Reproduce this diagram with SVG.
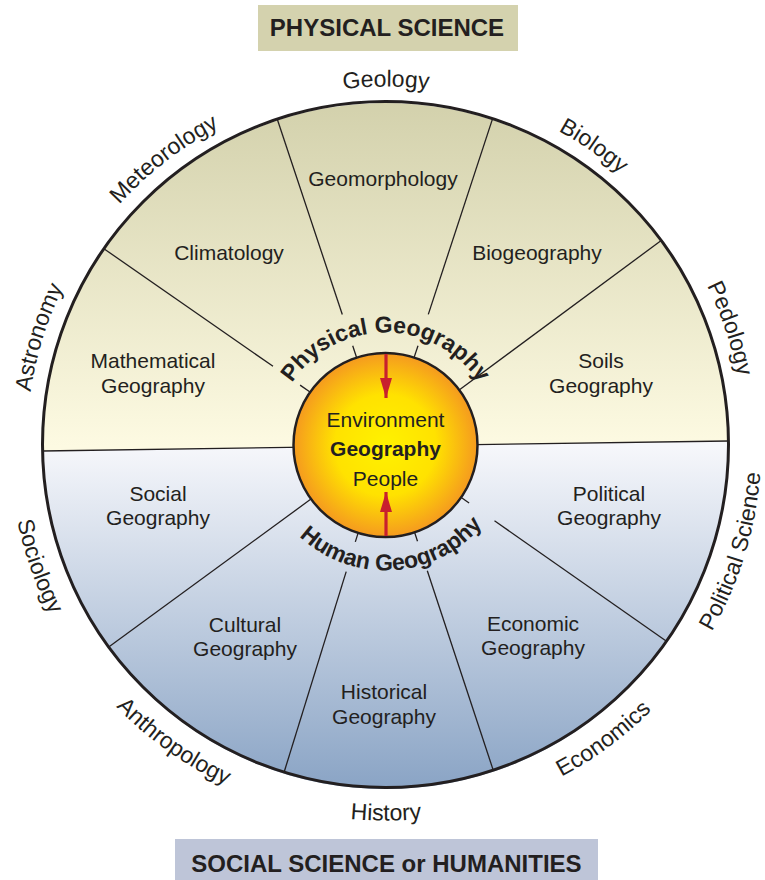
<svg xmlns="http://www.w3.org/2000/svg" width="765" height="880" viewBox="0 0 765 880">
<defs>
<style>
text{font-family:"Liberation Sans",Arial,Helvetica,sans-serif;fill:#231f20}
.sec{font-size:21px;text-anchor:middle}
.out{font-size:23px;text-anchor:middle}
.arc{font-size:23px;font-weight:bold;text-anchor:middle}
.ttl{font-size:24px;font-weight:bold;text-anchor:middle}
.spoke{stroke:#231f20;stroke-width:1.3;fill:none}
.arrow{stroke:#c8202e;stroke-width:3.2;fill:none;marker-end:url(#ah)}
</style>
<linearGradient id="gUp" x1="0" y1="102" x2="0" y2="446" gradientUnits="userSpaceOnUse">
<stop offset="0" stop-color="#d3d1ac"/>
<stop offset="1" stop-color="#fdfae2"/>
</linearGradient>
<linearGradient id="gLo" x1="0" y1="446" x2="0" y2="788" gradientUnits="userSpaceOnUse">
<stop offset="0" stop-color="#f6f7fb"/>
<stop offset="1" stop-color="#8aa4c5"/>
</linearGradient>
<radialGradient id="gSun" cx="0.5" cy="0.5" r="0.5">
<stop offset="0" stop-color="#fff200"/>
<stop offset="0.55" stop-color="#ffe200"/>
<stop offset="1" stop-color="#f59a1f"/>
</radialGradient>
<marker id="ah" viewBox="0 0 20 12" refX="20" refY="6" markerWidth="20" markerHeight="12" markerUnits="userSpaceOnUse" orient="auto">
<path d="M0,0 L20,6 L0,12 Z" fill="#c8202e"/>
</marker>
<path id="pUpOut" d="M385.5,804.5 A359,359 0 0 1 385.5,86.5 A359,359 0 0 1 385.5,804.5"/>
<path id="pLoOut" d="M385.5,68.5 A376,376 0 0 0 385.5,820.5 A376,376 0 0 0 385.5,68.5"/>
<path id="pPhys" d="M273.5,444.5 A112,112 0 0 1 497.5,444.5"/>
<path id="pHum" d="M259.5,444.5 A126,126 0 0 0 511.5,444.5"/>
</defs>

<g id="title-physical">
<rect x="258" y="5" width="260" height="46" fill="#d4d2ae"/>
<text class="ttl" x="387" y="36">PHYSICAL SCIENCE</text>
</g>
<g id="title-social">
<rect x="175" y="839" width="423" height="45" fill="#bec5d8"/>
<text class="ttl" x="386.5" y="872">SOCIAL SCIENCE or HUMANITIES</text>
</g>

<g id="wheel">
<path d="M42.5,451 A343,343 0 1 1 728.5,441 Z" fill="url(#gUp)"/>
<path d="M728.5,441 A343,343 0 0 1 42.5,451 Z" fill="url(#gLo)"/>
<line x1="42.5" y1="451" x2="728.5" y2="441" class="spoke"/>
</g>

<g id="connectors">
<line class="spoke" x1="103.9" y1="248.7" x2="273.0" y2="366.3"/>
<line class="spoke" x1="300.1" y1="385.1" x2="310.0" y2="392.0"/>
<line class="spoke" x1="277.2" y1="119.0" x2="342.3" y2="314.5"/>
<line class="spoke" x1="352.7" y1="345.8" x2="356.5" y2="357.2"/>
<line class="spoke" x1="492.6" y1="118.6" x2="428.3" y2="314.4"/>
<line class="spoke" x1="418.0" y1="345.7" x2="414.2" y2="357.1"/>
<line class="spoke" x1="661.2" y1="240.5" x2="459.5" y2="389.8"/>
<line class="spoke" x1="108.7" y1="647.1" x2="311.3" y2="498.8"/>
<line class="spoke" x1="284.1" y1="772.2" x2="346.2" y2="571.6"/>
<line class="spoke" x1="355.3" y1="541.9" x2="358.3" y2="532.4"/>
<line class="spoke" x1="493.2" y1="770.1" x2="427.3" y2="570.8"/>
<line class="spoke" x1="417.5" y1="541.3" x2="414.4" y2="531.8"/>
<line class="spoke" x1="666.5" y1="641.2" x2="494.5" y2="520.8"/>
<line class="spoke" x1="469.1" y1="503.0" x2="460.9" y2="497.3"/>
</g>

<g id="outer-ring">
<circle cx="385.5" cy="444.5" r="343" fill="none" stroke="#231f20" stroke-width="3"/>
</g>

<g id="physical-geography">
<text class="arc"><textPath href="#pPhys" startOffset="50%">Physical Geography</textPath></text>
</g>
<g id="human-geography">
<text class="arc" font-size="25"><textPath href="#pHum" startOffset="52%">Human Geography</textPath></text>
</g>

<g id="geomorphology"><text class="sec" x="383" y="185.5">Geomorphology</text></g>
<g id="climatology"><text class="sec" x="229" y="259.5">Climatology</text></g>
<g id="biogeography"><text class="sec" x="537" y="259.5">Biogeography</text></g>
<g id="mathematical-geography"><text class="sec" x="153" y="368">Mathematical</text><text class="sec" x="153" y="393">Geography</text></g>
<g id="soils-geography"><text class="sec" x="601" y="368">Soils</text><text class="sec" x="601" y="393">Geography</text></g>
<g id="social-geography"><text class="sec" x="158" y="501">Social</text><text class="sec" x="158" y="525">Geography</text></g>
<g id="political-geography"><text class="sec" x="609" y="501">Political</text><text class="sec" x="609" y="525">Geography</text></g>
<g id="cultural-geography"><text class="sec" x="245" y="632">Cultural</text><text class="sec" x="245" y="656">Geography</text></g>
<g id="economic-geography"><text class="sec" x="533" y="631">Economic</text><text class="sec" x="533" y="655">Geography</text></g>
<g id="historical-geography"><text class="sec" x="384" y="699">Historical</text><text class="sec" x="384" y="724">Geography</text></g>

<g id="center">
<circle cx="385.5" cy="445" r="92" fill="url(#gSun)" stroke="#231f20" stroke-width="2.5"/>
<line class="arrow" x1="386" y1="354" x2="386" y2="398"/>
<line class="arrow" x1="386" y1="536" x2="386" y2="492"/>
<text class="sec" x="385.5" y="427">Environment</text>
<text class="sec" x="385.5" y="456" font-weight="bold">Geography</text>
<text class="sec" x="385.5" y="486">People</text>
</g>

<g id="outer-labels">
<text class="out"><textPath href="#pUpOut" startOffset="1127.8">Geology</textPath></text>
<text class="out"><textPath href="#pUpOut" startOffset="891">Meteorology</textPath></text>
<text class="out"><textPath href="#pUpOut" startOffset="1345.3">Biology</textPath></text>
<text class="out"><textPath href="#pUpOut" startOffset="672.3">Astronomy</textPath></text>
<text class="out"><textPath href="#pUpOut" startOffset="1573.3">Pedology</textPath></text>
<text class="out"><textPath href="#pLoOut" startOffset="717.3">Sociology</textPath></text>
<text class="out"><textPath href="#pLoOut" startOffset="948.3">Anthropology</textPath></text>
<text class="out"><textPath href="#pLoOut" startOffset="1181.2">History</textPath></text>
<text class="out"><textPath href="#pLoOut" startOffset="1420.1">Economics</textPath></text>
<text class="out"><textPath href="#pLoOut" startOffset="1659">Political Science</textPath></text>
</g>
</svg>
